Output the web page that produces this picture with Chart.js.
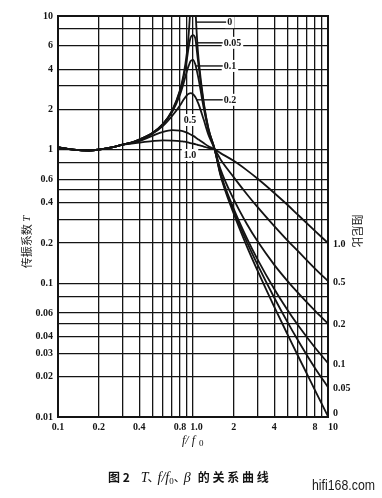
<!DOCTYPE html>
<html>
<head>
<meta charset="utf-8">
<script src="https://cdn.jsdelivr.net/npm/chart.js@4/dist/chart.umd.min.js"></script>
<style>
html,body{margin:0;padding:0;background:#fff;}
canvas{display:block;}
</style>
</head>
<body>
<canvas id="c" width="382" height="498"></canvas>
<script>
// ---- data ----
const freqRatio = [0.1,0.13,0.17,0.2,0.25,0.3,0.35,0.4,0.5,0.6,0.7,0.8,0.85,0.9,0.93,0.96,1.0,1.04,1.07,1.1,1.2,1.3,1.45,1.6,2,2.5,3,4,5,6,8,10];
const beta0   = [1.04,1.0,0.985,1.0,1.04,1.09,1.13,1.19,1.333,1.563,1.961,2.778,3.604,5.263,7.40,12.76,40,12.25,6.90,4.76,2.27,1.449,1.0,0.641,0.333,0.19,0.125,0.0667,0.0417,0.0286,0.0159,0.0101];
const beta005 = [1.04,1.0,0.985,1.0,1.04,1.09,1.13,1.19,1.332,1.558,1.947,2.72,3.459,4.70,5.9,6.9,7.2,6.8,5.4,4.24,2.208,1.436,1.0,0.652,0.348,0.205,0.1385,0.078,0.0515,0.0374,0.0233,0.0167];
const beta01  = [1.04,1.0,0.985,1.0,1.04,1.09,1.13,1.19,1.328,1.547,1.909,2.571,3.117,3.85,4.25,4.6,4.7,4.35,3.85,3.367,2.052,1.401,1.0,0.664,0.363,0.219,0.1518,0.0906,0.0634,0.0485,0.0331,0.0253];
const beta02  = [1.04,1.0,0.985,1.0,1.04,1.09,1.13,1.18,1.314,1.505,1.785,2.14,2.36,2.55,2.62,2.65,2.6,2.48,2.34,2.19,1.68,1.295,1.0,0.712,0.426,0.279,0.207,0.1375,0.1044,0.0848,0.0624,0.05];
const beta05  = [1.04,1.0,0.985,1.0,1.04,1.09,1.13,1.16,1.27,1.36,1.40,1.39,1.37,1.34,1.32,1.30,1.27,1.24,1.21,1.19,1.12,1.06,1.0,0.845,0.623,0.466,0.373,0.268,0.21,0.174,0.129,0.104];
const beta10  = [1.04,1.0,0.985,1.0,1.04,1.085,1.11,1.13,1.16,1.175,1.17,1.16,1.15,1.14,1.13,1.12,1.11,1.10,1.09,1.08,1.055,1.03,1.0,0.942,0.825,0.703,0.608,0.474,0.387,0.325,0.247,0.2];
const seriesNames = ['0','0.05','0.1','0.2','0.5','1.0'];

const xGridValues = [0.1,0.2,0.3,0.4,0.5,0.6,0.7,0.8,0.9,1,2,3,4,5,6,7,8,9,10];
const xTickLabels = {0.1:'0.1',0.2:'0.2',0.4:'0.4',0.8:'0.8',1:'\u2002\u20091.0',2:'2',4:'4',8:'8',10:'\u200310'};
const yGridValues = [0.01,0.02,0.03,0.04,0.05,0.06,0.08,0.1,0.2,0.3,0.4,0.5,0.6,0.8,1,2,3,4,6,8,10];
const yTickLabels = {10:'10',6:'6',4:'4',2:'2',1:'1',0.6:'0.6',0.4:'0.4',0.2:'0.2',0.1:'0.1',0.06:'0.06',0.04:'0.04',0.03:'0.03',0.02:'0.02',0.01:'0.01'};

// callout labels (data coordinates): leader from r0 to r1 at height T
const topCallouts = [
  {text:'0',    r0:1.06,  r1:1.76, T:9.0},
  {text:'0.05', r0:1.05,  r1:1.66, T:6.3},
  {text:'0.1',  r0:1.05,  r1:1.66, T:4.23},
  {text:'0.2',  r0:1.065, r1:1.66, T:2.36}
];
const innerLabels = [
  {text:'0.5', r:0.95, T:1.667},
  {text:'1.0', r:0.95, T:0.912}
];

const INK = '#141414';
const numFont = "bold 10px 'Liberation Serif', 'DejaVu Serif', serif";
const cjkFont = "11px 'Noto Sans CJK SC', sans-serif";

function mk(vals){ return freqRatio.map((r,i)=>({x:r,y:vals[i]})); }
const allSeries = [beta0,beta005,beta01,beta02,beta05,beta10];

const decor = {
  id:'decor',
  beforeDatasetsDraw(chart){
    const ctx = chart.ctx, xs = chart.scales.x, ys = chart.scales.y;
    ctx.save();
    ctx.font = numFont;
    ctx.textBaseline = 'middle';
    topCallouts.forEach(c=>{
      const y = ys.getPixelForValue(c.T);
      const x0 = xs.getPixelForValue(c.r0), x1 = xs.getPixelForValue(c.r1);
      const w = ctx.measureText(c.text).width;
      ctx.fillStyle = '#fff';
      ctx.fillRect(x1-1, y-6, w+4, 12);
      ctx.strokeStyle = INK; ctx.lineWidth = 1.4;
      ctx.beginPath(); ctx.moveTo(x0,y); ctx.lineTo(x1,y); ctx.stroke();
      ctx.fillStyle = INK; ctx.textAlign='left';
      ctx.fillText(c.text, x1+1, y+0.5);
    });
    innerLabels.forEach(c=>{
      const x = xs.getPixelForValue(c.r), y = ys.getPixelForValue(c.T);
      const w = ctx.measureText(c.text).width;
      ctx.fillStyle='#fff';
      ctx.fillRect(x-w/2-2, y-6, w+4, 12);
      ctx.fillStyle=INK; ctx.textAlign='center';
      ctx.fillText(c.text, x, y+0.5);
    });
    ctx.restore();
  },
  afterDraw(chart){
    const ctx = chart.ctx, a = chart.chartArea, xs = chart.scales.x, ys = chart.scales.y;
    ctx.save();
    ctx.strokeStyle = INK; ctx.lineWidth = 2;
    ctx.strokeRect(a.left, a.top, a.right-a.left, a.bottom-a.top);
    ctx.font = numFont; ctx.fillStyle = INK; ctx.textBaseline='middle'; ctx.textAlign='left';
    allSeries.forEach((s,i)=>{
      let y = ys.getPixelForValue(s[s.length-1]);
      y = Math.min(y, a.bottom-5);
      ctx.fillText(seriesNames[i], a.right+5, y+1);
    });
    ctx.save();
    ctx.translate(357, 231);
    ctx.rotate(Math.PI/2);
    ctx.font = cjkFont; ctx.textAlign='center'; ctx.textBaseline='middle';
    ctx.fillText('阻尼比', 0, 0);
    ctx.restore();
    ctx.save();
    ctx.translate(27, 242);
    ctx.rotate(-Math.PI/2);
    ctx.textBaseline='middle';
    ctx.font = cjkFont;
    const t1 = '传振系数 ';
    const w1 = ctx.measureText(t1).width;
    ctx.font = "italic 11px 'Liberation Serif', serif";
    const w2 = ctx.measureText('T').width;
    let sx = -(w1+w2)/2;
    ctx.font = cjkFont; ctx.textAlign='left';
    ctx.fillText(t1, sx, 0);
    ctx.font = "italic 11px 'Liberation Serif', serif";
    ctx.fillText('T', sx+w1, 0);
    ctx.restore();
    ctx.textBaseline='alphabetic'; ctx.textAlign='left';
    ctx.font = "italic 12px 'Liberation Serif', serif";
    ctx.fillText('f/ f', 182, 444);
    ctx.font = "9px 'Liberation Serif', serif";
    ctx.fillText('0', 199, 446);
    const pieces = [
      {t:'图 2', f:"bold 12px 'Noto Sans CJK SC', sans-serif", gap:11},
      {t:'T', f:"italic 14px 'Liberation Serif', serif", gap:0},
      {t:'、', f:"12px 'Noto Sans CJK SC', sans-serif", gap:0, dx:-1},
      {t:'f/f', f:"italic 14px 'Liberation Serif', serif", gap:0, dx:-2},
      {t:'0', f:"9px 'Liberation Serif', serif", gap:0, dy:2},
      {t:'、', f:"12px 'Noto Sans CJK SC', sans-serif", gap:0},
      {t:'β', f:"italic 14px 'Liberation Serif', serif", gap:7, dx:-2},
      {t:'的 关 系 曲 线', f:"bold 12px 'Noto Sans CJK SC', sans-serif", gap:0}
    ];
    let cx = 108;
    pieces.forEach(p=>{
      ctx.font = p.f;
      cx += (p.dx||0);
      ctx.fillText(p.t, cx, 482 + (p.dy||0));
      cx += ctx.measureText(p.t).width + p.gap;
    });
    ctx.font = "15px 'Liberation Sans', 'DejaVu Sans', sans-serif";
    const ww = ctx.measureText('hifi168.com').width;
    ctx.save();
    ctx.translate(312, 490);
    ctx.scale(63/ww, 1);
    ctx.fillStyle = '#1a1a1a';
    ctx.fillText('hifi168.com', 0, 0);
    ctx.restore();
    ctx.restore();
  }
};

new Chart(document.getElementById('c'), {
  type:'line',
  data:{
    datasets: allSeries.map((s,i)=>({
      label: seriesNames[i],
      data: mk(s),
      borderColor: INK,
      borderWidth: 1.8,
      pointRadius: 0,
      fill:false,
      cubicInterpolationMode:'monotone'
    }))
  },
  options:{
    responsive:false,
    animation:false,
    devicePixelRatio:1,
    layout:{padding:{left:0,top:16,right:54,bottom:0}},
    plugins:{legend:{display:false}, tooltip:{enabled:false}},
    scales:{
      x:{
        type:'logarithmic', min:0.1, max:10,
        afterBuildTicks(s){ s.ticks = xGridValues.map(v=>({value:v})); },
        afterFit(s){ s.height = 81; },
        ticks:{ autoSkip:false, maxRotation:0, padding:4, color:INK,
          font:{family:"'Liberation Serif', serif", size:10, weight:'bold'},
          callback(v){ return xTickLabels[v] || ''; } },
        grid:{ color:INK, lineWidth:1.3, drawTicks:false },
        border:{ color:INK, width:2 }
      },
      y:{
        type:'logarithmic', min:0.01, max:10,
        afterBuildTicks(s){ s.ticks = yGridValues.map(v=>({value:v})); },
        afterFit(s){ s.width = 58; },
        ticks:{ autoSkip:false, padding:5, color:INK,
          font:{family:"'Liberation Serif', serif", size:10, weight:'bold'},
          callback(v){ return yTickLabels[v] || ''; } },
        grid:{ color:INK, lineWidth:1.3, drawTicks:false },
        border:{ color:INK, width:2 }
      }
    }
  },
  plugins:[decor]
});
</script>
</body>
</html>
